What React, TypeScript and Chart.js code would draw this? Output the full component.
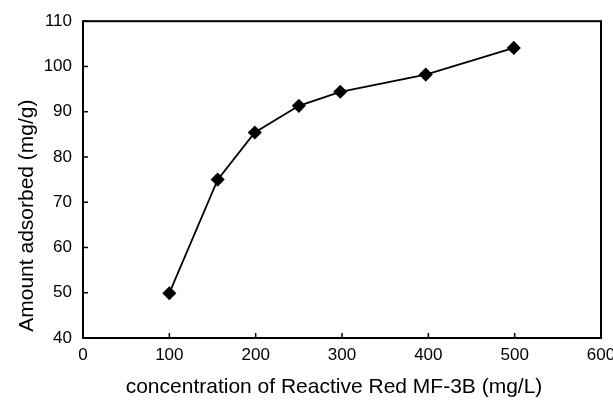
import { useEffect, useRef } from "react";
import { Chart, registerables } from "chart.js";

Chart.register(...registerables);

// Data
const concentrations = [100, 156, 199, 250, 298, 397, 499];
const amountAdsorbed = [49.9, 75.0, 85.4, 91.3, 94.4, 98.2, 104.1];

const xMin = 0;
const xMax = 600;
const xStep = 100;
const yMin = 40;
const yMax = 110;
const yStep = 10;

const xTitle = "concentration of Reactive Red MF-3B (mg/L)";
const yTitle = "Amount adsorbed (mg/g)";

const FONT = '"Liberation Sans", Arial, Helvetica, sans-serif';

const framePlugin = {
  id: "frame",
  afterDraw(chart: any) {
    const { ctx, chartArea: a, scales } = chart;
    ctx.save();
    ctx.strokeStyle = "#000";
    ctx.lineWidth = 2;
    ctx.strokeRect(a.left, a.top, a.right - a.left, a.bottom - a.top);

    ctx.lineWidth = 1.5;
    scales.x.ticks.forEach((t: any) => {
      const px = scales.x.getPixelForValue(t.value);
      ctx.beginPath();
      ctx.moveTo(px, a.bottom);
      ctx.lineTo(px, a.bottom - 5);
      ctx.stroke();
    });
    scales.y.ticks.forEach((t: any) => {
      const py = scales.y.getPixelForValue(t.value);
      ctx.beginPath();
      ctx.moveTo(a.left, py);
      ctx.lineTo(a.left + 5, py);
      ctx.stroke();
    });

    // Axis titles
    ctx.fillStyle = "#000";
    ctx.font = `21px ${FONT}`;
    ctx.textAlign = "center";
    ctx.textBaseline = "alphabetic";
    ctx.fillText(xTitle, (a.left + a.right) / 2 - 8, chart.height - 7);

    ctx.translate(33, (a.top + a.bottom) / 2 + 36);
    ctx.rotate(-Math.PI / 2);
    ctx.fillText(yTitle, 0, 0);
    ctx.restore();
  },
};

export default function App() {
  const canvasRef = useRef<HTMLCanvasElement | null>(null);

  useEffect(() => {
    if (!canvasRef.current) return;
    const chart = new Chart(canvasRef.current, {
      type: "line",
      data: {
        datasets: [
          {
            data: concentrations.map((x, i) => ({ x, y: amountAdsorbed[i] })),
            borderColor: "#000",
            backgroundColor: "#000",
            borderWidth: 1.8,
            pointStyle: "rectRot",
            pointRadius: 6,
            pointBorderWidth: 1.5,
            pointBackgroundColor: "#000",
            pointBorderColor: "#000",
            tension: 0,
            fill: false,
          },
        ],
      },
      options: {
        animation: false,
        responsive: false,
        devicePixelRatio: 1,
        layout: { padding: { top: 19, right: 12, left: 0, bottom: 0 } },
        plugins: {
          legend: { display: false },
          tooltip: { enabled: false },
        },
        scales: {
          x: {
            type: "linear",
            min: xMin,
            max: xMax,
            grid: { display: false, drawTicks: false },
            border: { display: false },
            ticks: {
              stepSize: xStep,
              color: "#000",
              padding: 7,
              maxRotation: 0,
              font: { family: FONT, size: 17 },
            },
            afterFit: (s: any) => {
              s.height = 62;
              s.paddingRight = 12;
            },
          },
          y: {
            type: "linear",
            min: yMin,
            max: yMax,
            grid: { display: false, drawTicks: false },
            border: { display: false },
            ticks: {
              stepSize: yStep,
              color: "#000",
              padding: 11,
              font: { family: FONT, size: 17 },
            },
            afterFit: (s: any) => {
              s.width = 83;
            },
          },
        },
      },
      plugins: [framePlugin],
    });
    return () => chart.destroy();
  }, []);

  return (
    <div style={{ position: "fixed", left: 0, top: 0, width: 613, height: 400, background: "#fff" }}>
      <canvas ref={canvasRef} width={613} height={400} style={{ display: "block" }} />
    </div>
  );
}
